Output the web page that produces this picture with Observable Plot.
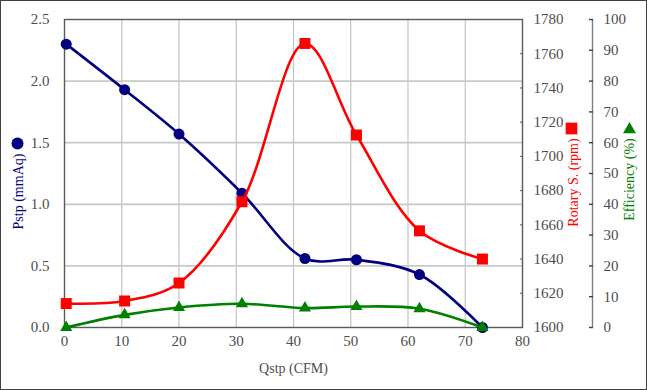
<!DOCTYPE html>
<html><head><meta charset="utf-8">
<script src="https://cdn.jsdelivr.net/npm/d3@7"></script>
<script src="https://cdn.jsdelivr.net/npm/@observablehq/plot@0.6"></script>
<style>
html,body{margin:0;padding:0;background:#fff;}
#chart{position:relative;width:647px;height:390px;overflow:hidden;background:#fff;}
#chart svg{position:absolute;left:0;top:0;}
#chart svg, #chart svg text{font-family:'Liberation Serif','Times New Roman',serif !important;}
#chart svg g[aria-label$="tick label"], #chart svg g[aria-label$="tick label"] text{font-size:15px !important;}
#border{position:absolute;left:0;top:0;right:0;bottom:0;border:1.5px solid #404040;pointer-events:none;}
</style></head><body><div id="chart"><div id="border"></div></div>
<script>
// Data
const qstp = [0.3, 10.5, 20, 31, 42, 51, 62, 73];            // Qstp (CFM)
const pstp = [2.30, 1.93, 1.57, 1.09, 0.56, 0.55, 0.43, 0.00]; // Pstp (mmAq)
const rpm  = [1614, 1615.5, 1626, 1673.5, 1766, 1712.5, 1656.5, 1640]; // Rotary S. (rpm)
const eff  = [0, 4.1, 6.5, 7.7, 6.3, 6.8, 6.1, 0];              // Efficiency (%)
const xTicks = [0, 10, 20, 30, 40, 50, 60, 70, 80];
const pTicks = [0, 0.5, 1.0, 1.5, 2.0, 2.5];
const rTicks = [1600, 1620, 1640, 1660, 1680, 1700, 1720, 1740, 1760, 1780];
const eTicks = [0, 10, 20, 30, 40, 50, 60, 70, 80, 90, 100];

const rows = qstp.map((q, i) => ({q, p: pstp[i], r: rpm[i], e: eff[i]}));

const font = "'Liberation Serif', 'Times New Roman', serif";
const tickColor = "#4d4d4d";
const tickSize = 15;
const common = {
  width: 647, height: 390,
  marginLeft: 64, marginRight: 125, marginTop: 19, marginBottom: 63,
  style: {fontFamily: font, fontSize: "14px", background: "transparent", overflow: "visible"},
  x: {domain: [0, 80]}
};
const chart = document.getElementById("chart");
const border = document.getElementById("border");

const p1 = Plot.plot({
  ...common,
  y: {domain: [0, 2.5]},
  marks: [
    Plot.gridX(xTicks.slice(1, -1), {stroke: "#c4c4c4", strokeOpacity: 1, strokeWidth: 1.2}),
    Plot.gridY(pTicks.slice(1, -1), {stroke: "#c8c8c8", strokeOpacity: 1, strokeWidth: 1.8}),
    Plot.frame({stroke: "#595959", strokeWidth: 1.4}),
    Plot.axisX(xTicks, {tickSize: 0, tickPadding: 8, fill: tickColor, fontSize: tickSize, fontFamily: font, label: null}),
    Plot.axisY(pTicks, {tickSize: 0, tickPadding: 15, tickFormat: d => d.toFixed(1), fill: tickColor, fontSize: tickSize, fontFamily: font, label: null}),
    Plot.line(rows, {x: "q", y: "p", curve: "catmull-rom", stroke: "#000080", strokeWidth: 2.6}),
    Plot.dot(rows, {x: "q", y: "p", r: 5.5, fill: "#000080", stroke: "none"}),
    Plot.text(["Qstp (CFM)"], {frameAnchor: "bottom", dy: 41, fill: tickColor, fontSize: 14, fontFamily: font, textAnchor: "middle", lineAnchor: "middle"}),
    Plot.text(["Pstp (mmAq)"], {frameAnchor: "left", dx: -46, dy: 18, rotate: -90, textAnchor: "middle", lineAnchor: "middle", fill: "#000080", fontSize: 14, fontFamily: font}),
    Plot.dot([0], {frameAnchor: "left", dx: -47, dy: -30, r: 6, fill: "#000080", stroke: "none"})
  ]
});

const p2 = Plot.plot({
  ...common,
  x: {domain: [0, 80], axis: null},
  y: {domain: [1600, 1780]},
  marks: [
    Plot.axisY(rTicks, {anchor: "right", tickSize: -3, tickPadding: 14, tickFormat: d => String(d), fill: tickColor, stroke: "#595959", fontSize: tickSize, fontFamily: font, label: null}),
    Plot.line(rows, {x: "q", y: "r", curve: "catmull-rom", stroke: "#ff0000", strokeWidth: 2.6}),
    Plot.dot(rows, {x: "q", y: "r", symbol: "square", r: 6.2, fill: "#ff0000", stroke: "none"}),
    Plot.text(["Rotary S. (rpm)"], {frameAnchor: "right", dx: 51, dy: 9, rotate: -90, textAnchor: "middle", lineAnchor: "middle", fill: "#ff0000", fontSize: 14, fontFamily: font}),
    Plot.dot([0], {frameAnchor: "right", dx: 49, dy: -45, symbol: "square", r: 6.6, fill: "#ff0000", stroke: "none"})
  ]
});

const p3 = Plot.plot({
  ...common,
  x: {domain: [0, 80], axis: null},
  y: {domain: [0, 100]},
  marks: [
    Plot.ruleX([80], {dx: 70, stroke: "#7f7f7f", strokeWidth: 1.4}),
    Plot.axisY(eTicks, {anchor: "right", dx: 70, tickSize: -4, tickPadding: 15, tickFormat: d => String(d), fill: tickColor, stroke: "#404040", strokeWidth: 1.4, fontSize: tickSize, fontFamily: font, label: null}),
    Plot.line(rows, {x: "q", y: "e", curve: "catmull-rom", stroke: "#008000", strokeWidth: 2.6}),
    Plot.dot(rows, {x: "q", y: "e", symbol: "triangle", r: 4.5, fill: "#008000", stroke: "none"}),
    Plot.text(["Efficiency (%)"], {frameAnchor: "right", dx: 107, dy: 6, rotate: -90, textAnchor: "middle", lineAnchor: "middle", fill: "#008000", fontSize: 14, fontFamily: font}),
    Plot.dot([0], {frameAnchor: "right", dx: 107, dy: -44, symbol: "triangle", r: 4.8, fill: "#008000", stroke: "none"})
  ]
});

chart.insertBefore(p1, border);
chart.insertBefore(p2, border);
chart.insertBefore(p3, border);
</script>
</body></html>
